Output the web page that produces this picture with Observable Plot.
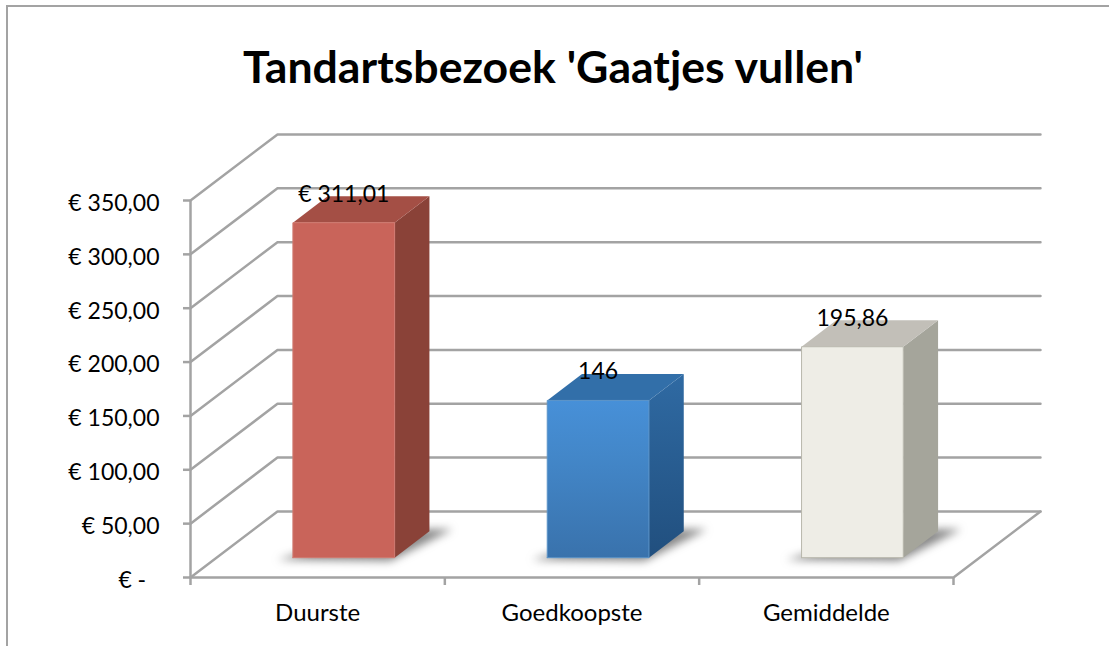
<!DOCTYPE html>
<html>
<head>
<meta charset="utf-8">
<script src="https://cdn.jsdelivr.net/npm/d3@7"></script>
<script src="https://cdn.jsdelivr.net/npm/@observablehq/plot@0.6"></script>
<style>
  html, body { margin: 0; padding: 0; background: #fff; }
  #page { position: relative; width: 1109px; height: 646px; overflow: hidden; font-family: Lato, sans-serif; }
  #edge { position: absolute; left: 6px; top: 5px; right: -4px; bottom: -4px; border: 2px solid #a3a3a3; }
  h1 { position: absolute; left: 0; top: 0; width: 1106px; height: 110px; margin: 0; line-height: 132px;
       text-align: center; font-size: 44.6px; font-weight: 700; color: #000; }
  #chart { position: absolute; left: 0; top: 110px; }
  #chart svg { display: block; }
</style>
</head>
<body>
<div id="page">
  <div id="edge"></div>
  <h1>Tandartsbezoek 'Gaatjes vullen'</h1>
  <div id="chart"></div>
</div>
<script>
const titleText = "Tandartsbezoek 'Gaatjes vullen'";
const categories = ["Duurste", "Goedkoopste", "Gemiddelde"];
const values = [311.01, 146, 195.86];
const valueLabels = ["€ 311,01", "146", "195,86"];
const yTicks = [0, 50, 100, 150, 200, 250, 300, 350];
const xBoundaries = [0, 1, 2, 3];

const frontFills = ["#c9645a", "url(#blueFront)", "#eeede6"];
const sideFills = ["#8a4238", "url(#blueSide)", "#a5a59b"];
const topFills = ["#a44f45", "#326fa9", "#c2bfb8"];
const edgeColors = ["#d07a70", "#5a93c8", "#b8b7ac"];

// Oblique projection of the chart's depth axis onto x (categories) and y (euro)
const DX = 0.342, DY = 61.3;
const HALF = 0.2, D0 = 0.3, D1 = 0.7;
const P = (x, v, d) => ({x: x + d * DX, y: v + d * DY});

const grey = "#a3a3a3";
const lineW = 2.5;
const polyline = (pts, o = {}) => Plot.line(pts, {x: "x", y: "y", curve: "linear", ...o});

const gridLines = yTicks.map(v => polyline([P(0, v, 0), P(0, v, 1), P(3, v, 1)], {stroke: grey, strokeWidth: lineW}));
const floorLine = polyline([P(0, 0, 0), P(3, 0, 0), P(3, 0, 1)], {stroke: grey, strokeWidth: lineW});

const shadows = categories.map((_, i) => {
  const c = i + 0.5;
  return polyline([P(c - 0.25, 0, 0.27), P(c + 0.2, 0, 0.25), P(c + 0.28, 0, 0.73), P(c, 0, 0.73)],
    {fill: "#555555", fillOpacity: 0.7, stroke: "none", imageFilter: "blur(4px)"});
});

const bars = categories.flatMap((_, i) => {
  const c = i + 0.5, l = c - HALF, r = c + HALF, v = values[i];
  return [
    polyline([P(r, 0, D0), P(r, 0, D1), P(r, v, D1), P(r, v, D0)], {fill: sideFills[i], stroke: "none"}),
    polyline([P(l, v, D0), P(r, v, D0), P(r, v, D1), P(l, v, D1)], {fill: topFills[i], stroke: "none"}),
    polyline([P(l, 0, D0), P(r, 0, D0), P(r, v, D0), P(l, v, D0), P(l, 0, D0)],
      {fill: frontFills[i], stroke: edgeColors[i], strokeWidth: 1})
  ];
});

const gradients = () => {
  const defs = d3.create("svg:defs");
  const grad = (id, stops) => {
    const g = defs.append("linearGradient").attr("id", id).attr("x1", 0).attr("y1", 0).attr("x2", 0).attr("y2", 1);
    stops.forEach(([o, c]) => g.append("stop").attr("offset", o).attr("stop-color", c));
  };
  grad("blueFront", [[0, "#4790d8"], [0.35, "#4387c9"], [1, "#3972ac"]]);
  grad("blueSide", [[0, "#2f6aa3"], [1, "#214f7e"]]);
  return defs.node();
};

const plot = Plot.plot({
  width: 1109,
  height: 536,
  marginLeft: 190,
  marginRight: 156,
  marginTop: 90,
  marginBottom: 69,
  style: {fontFamily: "Lato, sans-serif", fontSize: "23px", color: "#000", background: "transparent", overflow: "visible"},
  x: {domain: [0, 3]},
  y: {domain: [0, 350]},
  marks: [
    gradients,
    ...gridLines,
    floorLine,
    Plot.ruleX([0], {stroke: grey, strokeWidth: lineW}),
    Plot.axisY({ticks: yTicks, tickSize: 7, stroke: grey, strokeWidth: lineW, strokeOpacity: 1, tickFormat: () => "", label: null}),
    Plot.axisY({
      ticks: yTicks, tickSize: 0, tickPadding: 31, dy: 3, fill: "#000", label: null,
      tickFormat: v => v === 0 ? "€ -\u2007" : "€ " + v.toFixed(2).replace(".", ",")
    }),
    Plot.axisX({ticks: xBoundaries, tickSize: 8, stroke: grey, strokeWidth: lineW, strokeOpacity: 1, tickFormat: () => "", label: null}),
    Plot.axisX({
      ticks: categories.map((_, i) => i + 0.5), tickSize: 0, tickPadding: 26, fill: "#000", fontSize: 24, label: null,
      tickFormat: v => categories[Math.floor(v)]
    }),
    ...shadows,
    ...bars,
    Plot.text(categories.map((_, i) => i), {
      x: i => i + 0.5 + D0 * DX,
      y: i => values[i] + D1 * DY,
      text: i => valueLabels[i],
      dy: -2, fill: "#000", fontSize: 23, lineAnchor: "middle"
    })
  ]
});
document.getElementById("chart").append(plot);
document.querySelector("h1").textContent = titleText;
</script>
</body>
</html>
